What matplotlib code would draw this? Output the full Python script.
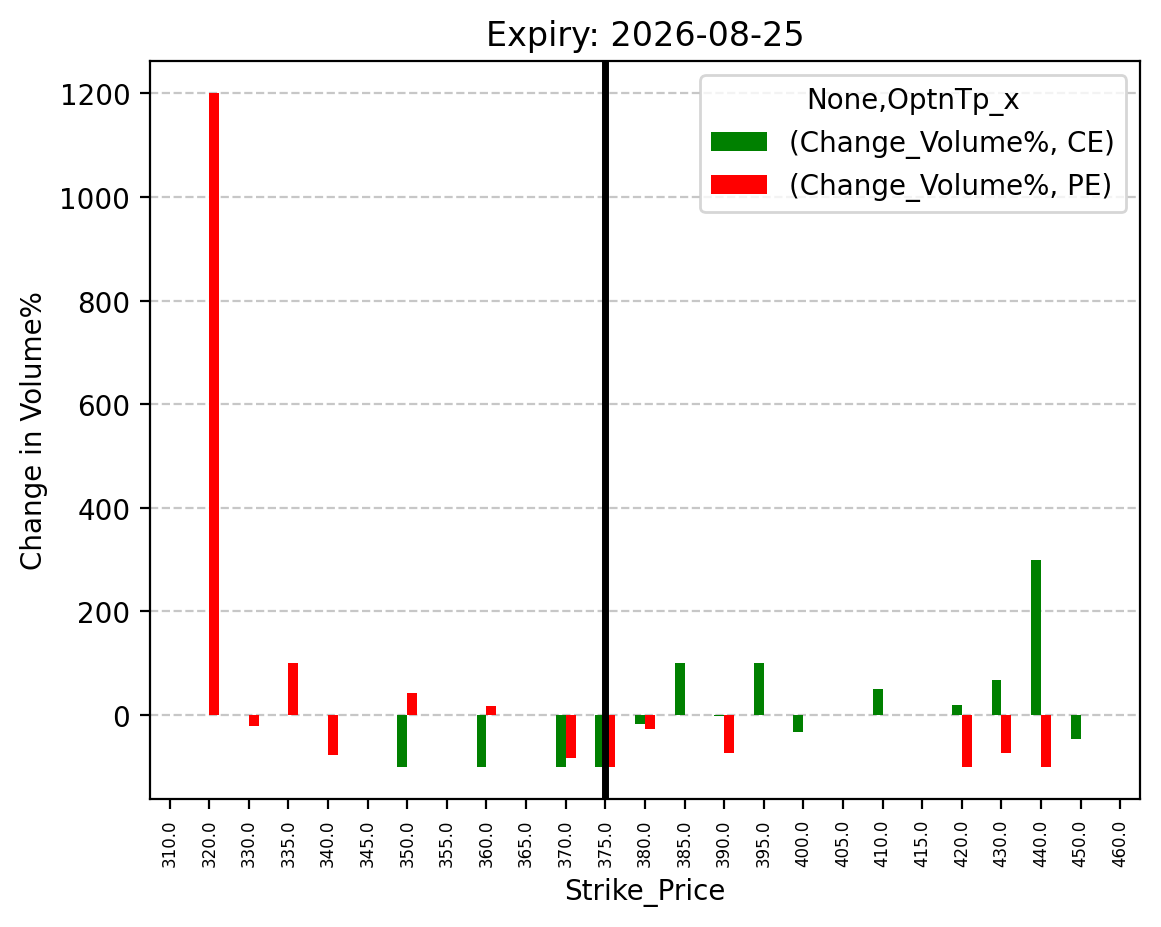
import numpy as np
import matplotlib
matplotlib.use('Agg')
from matplotlib import pyplot as plt

strikes = ['310.0', '320.0', '330.0', '335.0', '340.0', '345.0', '350.0', '355.0',
           '360.0', '365.0', '370.0', '375.0', '380.0', '385.0', '390.0', '395.0',
           '400.0', '405.0', '410.0', '415.0', '420.0', '430.0', '440.0', '450.0', '460.0']
ce = [np.nan, np.nan, np.nan, np.nan, np.nan, np.nan, -100, np.nan,
      -100, np.nan, -100, -100, -17, 100, -2, 100,
      -33, np.nan, 50, np.nan, 20, 66.7, 300, -46, np.nan]
pe = [np.nan, 1200, -22, 100, -78, np.nan, 42, np.nan,
      17, np.nan, -83, -100, -27, np.nan, -73, np.nan,
      np.nan, np.nan, np.nan, np.nan, -100, -73, -100, np.nan, np.nan]
spot_strike = '375.0'

fig, ax = plt.subplots(figsize=(5.805, 4.64), dpi=200)
x = np.arange(len(strikes))
w = 0.25
ax.bar(x - w/2, ce, w, color='green', label='(Change_Volume%, CE)')
ax.bar(x + w/2, pe, w, color='red', label='(Change_Volume%, PE)')
ax.axvline(strikes.index(spot_strike), color='black', linewidth=2.5)

ax.set_xticks(x)
ax.set_xticklabels(strikes, rotation=90, fontsize=6)
ax.set_xlim(-0.5, len(strikes) - 0.5)
ax.set_ylim(-162, 1262)
ax.yaxis.grid(True, linestyle='--', alpha=0.7)
ax.set_axisbelow(True)
ax.set_title('Expiry: 2026-08-25')
ax.set_xlabel('Strike_Price')
ax.set_ylabel('Change in Volume%')
ax.legend(title='None,OptnTp_x', loc='upper right')

fig.subplots_adjust(left=0.129, right=0.982, top=0.933, bottom=0.138)
plt.savefig('out.png', dpi=200)
